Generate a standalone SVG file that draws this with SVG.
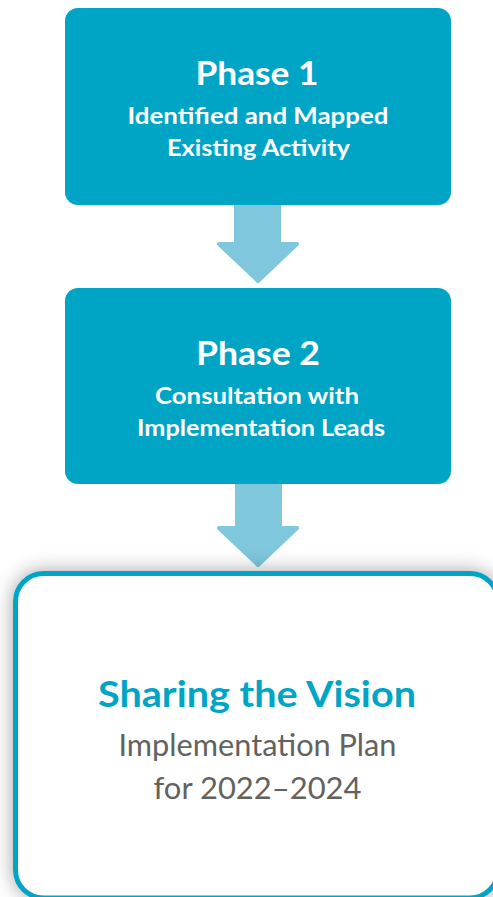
<svg xmlns="http://www.w3.org/2000/svg" width="493" height="897" viewBox="0 0 493 897">
<defs>
<style>
.phase{fill:#00a5c6}
.arrow{fill:#7fc7dc;stroke:#7fc7dc;stroke-width:4;stroke-linejoin:round}
.t{font-family:Lato,"Open Sans","Liberation Sans",sans-serif;text-anchor:middle}
.h{fill:#fff;font-weight:700;font-size:33px}
.s{fill:#fff;font-weight:700;font-size:23.5px}
.v{fill:#00a5c6;font-weight:700;font-size:36px}
.p{fill:#62625e;font-weight:400;font-size:31.5px}
</style>
<filter id="sh" x="-20%" y="-20%" width="140%" height="140%">
<feDropShadow dx="0" dy="0" stdDeviation="10" flood-color="#000" flood-opacity="0.36"/>
</filter>
</defs>
<rect width="493" height="897" fill="#fff"/>
<g id="connectors">
<path class="arrow" d="M236,204 H279 V244 H297 L258,281 L219,244 H236 Z"/>
<path class="arrow" d="M237,483 H280 V528 H297 L258,565 L219,528 H237 Z"/>
</g>
<g id="phase1">
<rect class="phase" x="65" y="8" width="386" height="197" rx="13"/>
<text class="t h" x="257" y="85" textLength="123" lengthAdjust="spacingAndGlyphs">Phase 1</text>
<text class="t s" x="258" y="123.5" textLength="261" lengthAdjust="spacingAndGlyphs">Identified and Mapped</text>
<text class="t s" x="258.5" y="155.5" textLength="183" lengthAdjust="spacingAndGlyphs">Existing Activity</text>
</g>
<g id="phase2">
<rect class="phase" x="65" y="288" width="386" height="196" rx="13"/>
<text class="t h" x="258" y="365" textLength="124" lengthAdjust="spacingAndGlyphs">Phase 2</text>
<text class="t s" x="257" y="404" textLength="204" lengthAdjust="spacingAndGlyphs">Consultation with</text>
<text class="t s" x="261" y="435.5" textLength="248" lengthAdjust="spacingAndGlyphs">Implementation Leads</text>
</g>
<g id="vision">
<rect x="15.5" y="573.5" width="482.5" height="324.5" rx="28" fill="#fff" stroke="#00a5c6" stroke-width="5" filter="url(#sh)"/>
<text class="t v" x="257" y="707" textLength="318" lengthAdjust="spacingAndGlyphs">Sharing the Vision</text>
<text class="t p" x="257.5" y="756" textLength="278" lengthAdjust="spacingAndGlyphs">Implementation Plan</text>
<text class="t p" x="257.5" y="799" textLength="208" lengthAdjust="spacingAndGlyphs">for 2022–2024</text>
</g>
</svg>
